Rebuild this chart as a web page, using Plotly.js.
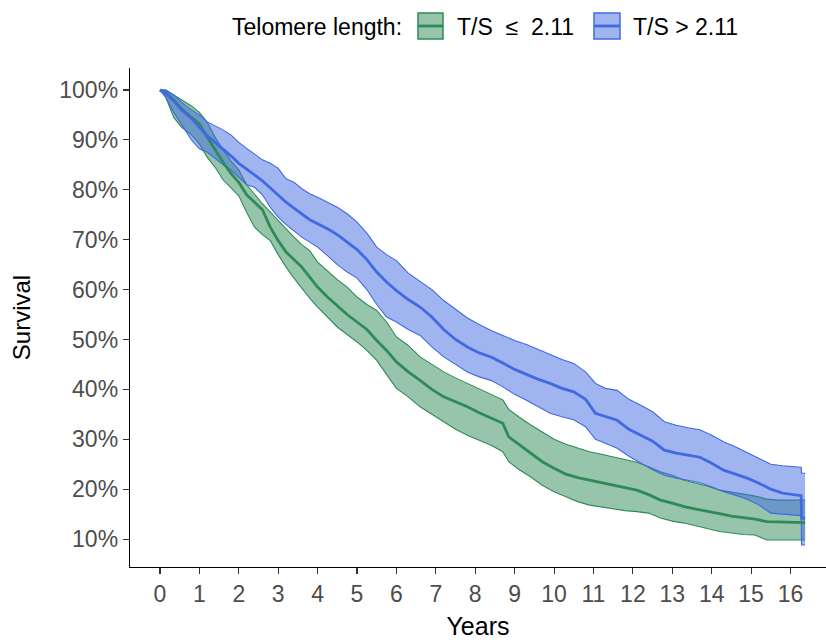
<!DOCTYPE html>
<html>
<head>
<meta charset="utf-8">
<script src="https://cdn.plot.ly/plotly-3.0.1.min.js"></script>
<style>html,body{margin:0;padding:0;background:#fff;}#chart{width:826px;height:640px;}</style>
</head>
<body>
<div id="chart"></div>
<script>
// ---- Data ----
const legendTitle = "Telomere length:";
const groupNames = ["T/S  \u2264  2.11", "T/S > 2.11"];

const greenTime  = [0,0.15,0.35,0.55,0.8,1.0,1.2,1.4,1.6,1.8,2.0,2.2,2.4,2.6,2.8,3.0,3.2,3.4,3.6,3.8,4.0,4.25,4.5,4.75,5.0,5.25,5.5,5.75,6.0,6.3,6.6,6.9,7.2,7.5,7.8,8.1,8.4,8.7,8.85,9.1,9.4,9.7,10.0,10.3,10.6,10.9,11.2,11.5,11.8,12.1,12.4,12.7,13.0,13.3,13.6,13.9,14.2,14.5,14.8,15.1,15.4,15.7,16.0,16.37];
const greenSurv  = [100,99.5,98,96.2,94.5,93.2,90.5,88,85.5,83.3,81.5,79,77.5,76,72.5,69.8,67.5,66,64.5,62.5,60.5,58.5,56.8,55,53.5,52,49.8,47.8,45.5,43.5,41.8,40,38.5,37.5,36.5,35.3,34.3,33.2,30.5,29,27.2,25.5,24.2,23,22.3,21.8,21.2,20.8,20.3,19.8,18.9,17.8,17.2,16.5,16.0,15.6,15.1,14.6,14.3,14.0,13.5,13.4,13.3,13.3];
const greenLower = [100,98.5,94.5,92.5,91,89.2,86.5,84.5,82,80.3,78.8,75.5,72.5,71,69.8,67,64.5,62.3,60.2,58.3,56.5,54.5,52.5,51,49.5,47.8,45.8,43,40.2,38.5,36.5,35,33.5,32,30.8,29.8,28.8,27.5,25.5,24,22.5,20.8,19.5,18.5,17.5,16.8,16.4,16.0,15.7,15.5,15.2,14.2,13.6,13.2,12.6,12.0,11.5,11.2,10.9,10.8,9.8,9.8,9.8,9.8];
const greenUpper = [100,100,99,98,96.8,95.5,93.5,90.5,88,85.8,84,81,79,77.2,75.5,73.8,72,70.5,69,67.8,65.5,63.8,62,60.5,58.5,57,55.8,53.5,50.5,48.8,46.5,45,43.5,42.3,41.2,40,39,37.9,36,34.5,32.9,31.5,30,29,28.3,27.5,27,26.5,26,25.4,24.5,23.5,22.8,21.8,21.2,20.6,19.8,19.4,19.0,18.6,18.0,17.8,17.8,17.8];

const blueTime  = [0,0.15,0.35,0.55,0.8,1.0,1.2,1.4,1.6,1.8,2.0,2.2,2.4,2.6,2.8,3.0,3.2,3.4,3.6,3.8,4.0,4.25,4.5,4.75,5.0,5.25,5.5,5.75,6.0,6.3,6.6,6.9,7.2,7.5,7.8,8.1,8.4,8.7,9.0,9.3,9.6,9.9,10.2,10.5,10.8,11.05,11.3,11.6,11.9,12.2,12.5,12.8,13.1,13.4,13.7,14.0,14.3,14.6,14.9,15.2,15.5,15.8,16.1,16.27,16.28,16.37];
const blueSurv  = [100,99.3,97.8,96,94.3,92.5,90.8,89.5,88.2,86.8,85.3,84.2,83,81.8,80.3,78.8,77.5,76.3,75.2,74,73.2,72.2,71,69.5,68,66,63.5,61.5,59.8,58,56.5,54.5,52,50,48.5,47.3,46.5,45.3,44,43,42,41.2,40.2,39.5,38,35.2,34.6,33.8,32,30.8,29.6,27.8,27.2,26.8,26.4,25.2,23.8,23,22.2,21.2,20,19.2,18.8,18.7,14.2,14.2];
const blueLower = [100,98.5,95.5,93,90,88.2,87.5,86.3,85,84,82.5,81,80.5,79,76.5,74.5,73,71.8,70.5,69.5,68.5,66.8,65,63.5,62.3,60,57,54.5,53.5,52,50.8,48.5,46.5,45,43.5,42.5,41.8,40.5,39,37.8,36.5,35.2,34.5,33.9,32.5,30,29.2,28.2,26.6,25.2,23.9,22.8,22.2,21.8,21.3,20.5,19.5,18.8,18,16.8,15.2,15,14.8,14.7,8.8,8.8];
const blueUpper = [100,100,99,97.5,96,95,93.6,92.8,92,91,89.5,88.3,87.2,86,85.3,84.3,82.2,81.5,80.2,79.2,78.5,77.5,76.5,75.2,73.5,71.3,68.5,67,65.8,63.3,61.6,60,57.8,56,54.3,53,51.8,50.8,49.8,49,48,46.9,46,45.2,43.5,41.2,40.2,39.8,38,36.8,35.5,33.5,32.8,32.3,31.9,30.8,29.5,28.5,27.3,26.2,25,24.7,24.5,24.4,23.2,23.2];

const xTicks = [0,1,2,3,4,5,6,7,8,9,10,11,12,13,14,15,16];
const yTicks = [10,20,30,40,50,60,70,80,90,100];

// ---- Styling ----
const green = "#2E8B57", blue = "#4169E1";
const greenFill = "rgba(46,139,87,0.5)", blueFill = "rgba(65,105,225,0.5)";
const FONT = "Liberation Sans, Arial, sans-serif";

function band(t, lo, hi, col, fillcol) {
  return [
    {x: t, y: lo, type: "scatter", mode: "lines", line: {color: col, width: 1.1}, showlegend: false, hoverinfo: "skip"},
    {x: t, y: hi, type: "scatter", mode: "lines", line: {color: col, width: 1.1}, fill: "tonexty", fillcolor: fillcol, showlegend: false, hoverinfo: "skip"}
  ];
}
function est(t, s, col, name) {
  return {x: t, y: s, type: "scatter", mode: "lines", name: name, line: {color: col, width: 2.8}, showlegend: false};
}

const traces = [].concat(
  band(greenTime, greenLower, greenUpper, green, greenFill),
  band(blueTime, blueLower, blueUpper, blue, blueFill),
  [est(greenTime, greenSurv, green, groupNames[0]), est(blueTime, blueSurv, blue, groupNames[1])]
);

// custom legend (paper coords: plot area is x 130..826 px, y 68..567 px)
function px2x(p) { return (p - 130) / 696; }
function py2y(p) { return (567 - p) / 499; }
const shapes = [];
const legendBoxes = [[418, 443, greenFill, green], [594, 620, blueFill, blue]];
legendBoxes.forEach(b => {
  shapes.push({type: "rect", xref: "paper", yref: "paper", x0: px2x(b[0]), x1: px2x(b[1]), y0: py2y(39), y1: py2y(13), fillcolor: b[2], line: {color: b[3], width: 1.5}});
  shapes.push({type: "line", xref: "paper", yref: "paper", x0: px2x(b[0]), x1: px2x(b[1]), y0: py2y(26), y1: py2y(26), line: {color: b[3], width: 2.8}});
});
const annotations = [
  {text: legendTitle, xref: "paper", yref: "paper", x: px2x(404), y: py2y(27), xanchor: "right", yanchor: "middle", showarrow: false, font: {family: FONT, size: 23, color: "#000"}},
  {text: groupNames[0], xref: "paper", yref: "paper", x: px2x(455), y: py2y(27), xanchor: "left", yanchor: "middle", showarrow: false, font: {family: FONT, size: 23, color: "#000"}},
  {text: groupNames[1], xref: "paper", yref: "paper", x: px2x(631), y: py2y(27), xanchor: "left", yanchor: "middle", showarrow: false, font: {family: FONT, size: 23, color: "#000"}}
];

const layout = {
  width: 826, height: 640,
  margin: {l: 130, r: 0, t: 68, b: 73},
  paper_bgcolor: "#fff", plot_bgcolor: "#fff",
  font: {family: FONT},
  showlegend: false,
  xaxis: {
    range: [-0.76, 16.9], tickvals: xTicks, ticktext: xTicks.map(String),
    showgrid: false, zeroline: false, showline: true, linecolor: "#000", linewidth: 1.3,
    ticks: "outside", ticklen: 6, tickwidth: 1.1, tickcolor: "#333",
    tickfont: {family: FONT, size: 23, color: "#4D4D4D"},
    title: {text: "Years", font: {family: FONT, size: 25, color: "#000"}, standoff: 24}
  },
  yaxis: {
    range: [4.4, 104.4], tickvals: yTicks, ticktext: yTicks.map(v => v + "%"),
    showgrid: false, zeroline: false, showline: true, linecolor: "#000", linewidth: 1.3,
    ticks: "outside", ticklen: 6, tickwidth: 1.1, tickcolor: "#333",
    tickfont: {family: FONT, size: 23, color: "#4D4D4D"},
    title: {text: "Survival", font: {family: FONT, size: 24, color: "#000"}, standoff: 22}
  },
  shapes: shapes,
  annotations: annotations
};

Plotly.newPlot("chart", traces, layout, {displayModeBar: false, staticPlot: true});
</script>
</body>
</html>
